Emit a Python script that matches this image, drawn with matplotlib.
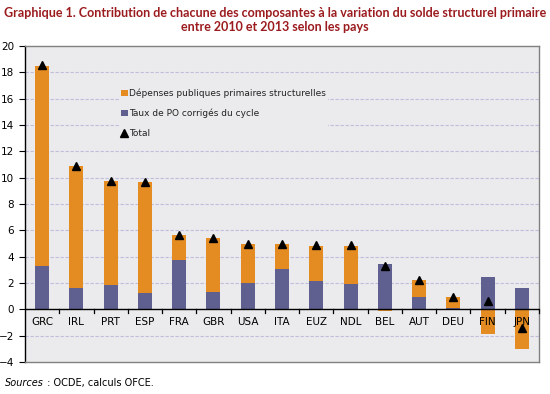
import matplotlib
matplotlib.use("Agg")
import matplotlib.pyplot as plt
from matplotlib.lines import Line2D
from matplotlib.patches import Patch
import numpy as np

countries = ["GRC", "IRL", "PRT", "ESP", "FRA", "GBR", "USA", "ITA", "EUZ", "NDL",
             "BEL", "AUT", "DEU", "FIN", "JPN"]
taux_po = [3.3, 1.62, 1.85, 1.23, 3.75, 1.33, 2.0, 3.05, 2.15, 1.92,
           3.45, 0.93, 0.09, 2.45, 1.6]
depenses = [15.2, 9.25, 7.9, 8.47, 1.9, 4.08, 2.95, 1.92, 2.67, 2.9,
            -0.13, 1.28, 0.82, -1.88, -3.03]
total = [18.55, 10.85, 9.75, 9.7, 5.65, 5.4, 4.95, 4.95, 4.85, 4.85,
         3.3, 2.2, 0.92, 0.6, -1.42]

ORANGE = "#e48c22"
PURPLE = "#606090"
BG = "#ebebed"
TITLE_C = "#9b1b1e"

fig = plt.figure(figsize=(5.5, 3.94), dpi=100)
ax = fig.add_axes([25/550, 1-362/394, 514/550, 316/394])
ax.set_facecolor(BG)

x = np.arange(len(countries))
w = 0.41
ax.bar(x, taux_po, w, color=PURPLE, zorder=2)
pos_d = [d if d > 0 else 0 for d in depenses]
neg_d = [d if d < 0 else 0 for d in depenses]
ax.bar(x, pos_d, w, bottom=taux_po, color=ORANGE, zorder=2)
ax.bar(x, neg_d, w, color=ORANGE, zorder=2)
ax.plot(x, total, linestyle="none", marker="^", color="black", markersize=6, zorder=4)

ax.set_xlim(-0.5, len(countries) - 0.5)
ax.set_ylim(-4, 20)
ax.set_yticks(np.arange(-4, 21, 2))
ax.tick_params(axis="y", labelsize=7.5, length=4, direction="out", colors="black", pad=4)
for yv in np.arange(-2, 20, 2):
    if yv != 0:
        ax.axhline(yv, color="#c0bedc", lw=0.8, ls=(0, (3, 1.5)), zorder=1)
ax.axhline(0, color="black", lw=1, zorder=3)

ax.set_xticks([])
for b in np.arange(0.5, len(countries) - 0.5 + 1, 1):
    ax.plot([b, b], [0, -0.3], color="black", lw=0.9, zorder=3, clip_on=False)
for i, c in enumerate(countries):
    ax.text(i, -0.55, c, ha="center", va="top", fontsize=7.5, zorder=5, family="DejaVu Sans")

ax.spines["left"].set_color("black")
ax.spines["left"].set_linewidth(1)
for s in ["top", "right", "bottom"]:
    ax.spines[s].set_color("#808080")
    ax.spines[s].set_linewidth(1)

handles = [Patch(facecolor=ORANGE, edgecolor="none"),
           Patch(facecolor=PURPLE, edgecolor="none"),
           Line2D([], [], marker="^", color="black", linestyle="none", markersize=6)]
labels = ["Dépenses publiques primaires structurelles",
          "Taux de PO corrigés du cycle",
          "Total"]
leg = ax.legend(handles, labels, loc="upper left", bbox_to_anchor=(0.175, 0.885),
                frameon=True, facecolor=BG, edgecolor="none", fontsize=6.5,
                handlelength=0.7, handleheight=0.7, handletextpad=0.2,
                labelspacing=1.2, borderpad=0.2, framealpha=1)
for t in leg.get_texts():
    t.set_color("#222222")
leg.set_zorder(3)

fig.text(0.5, 1-13/394, "Graphique 1. Contribution de chacune des composantes à la variation du solde structurel primaire",
         ha="center", va="center", fontsize=9.0, color=TITLE_C, family="Lato", fontweight="bold")
fig.text(0.5, 1-27/394, "entre 2010 et 2013 selon les pays",
         ha="center", va="center", fontsize=9.0, color=TITLE_C, family="Lato", fontweight="bold")

t1 = fig.text(5/550, 1-383/394, "Sources", ha="left", va="center", fontsize=7, style="italic")
fig.canvas.draw()
bb = t1.get_window_extent()
fig.text(bb.x1 / 550, 1-383/394, " : OCDE, calculs OFCE.", ha="left", va="center", fontsize=7)

fig.savefig("out.png", dpi=100, facecolor="white")
